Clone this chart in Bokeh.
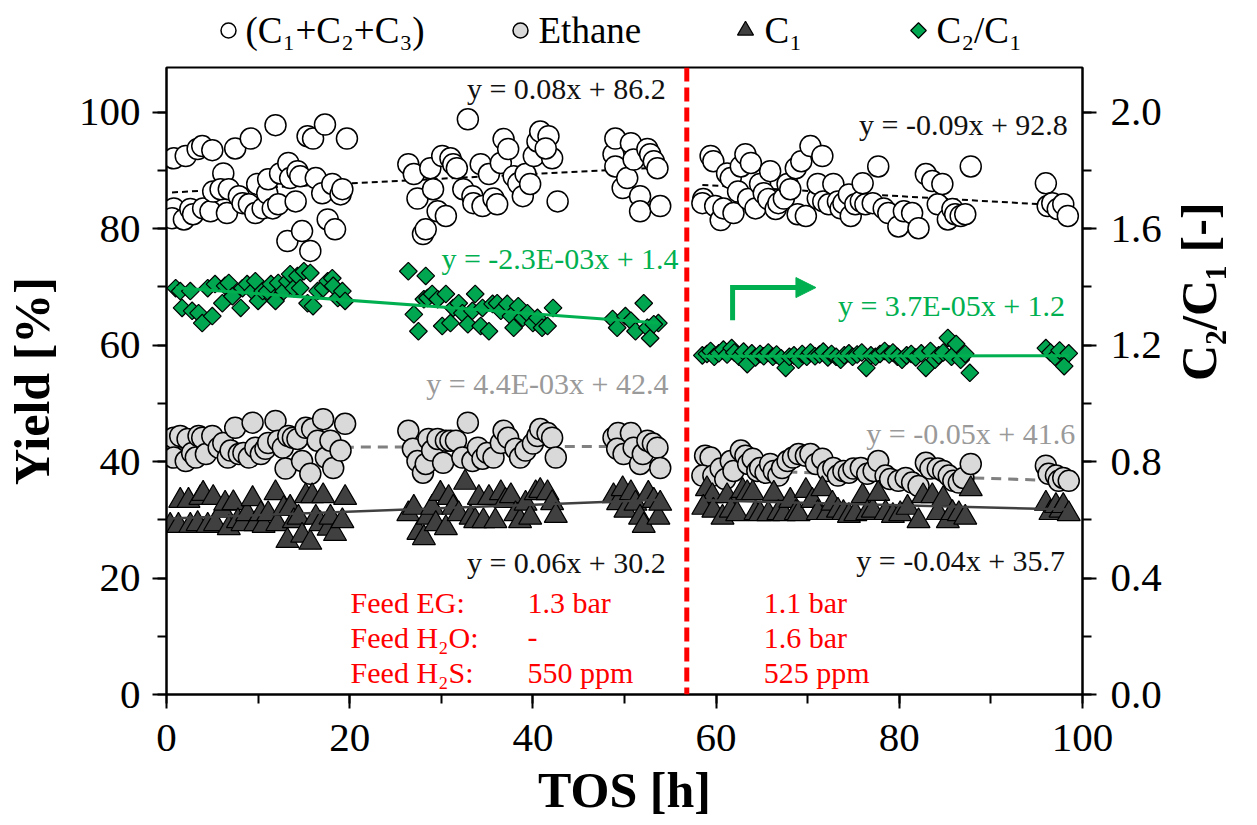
import numpy as np
from bokeh.plotting import figure
from bokeh.models import (Range1d, LinearAxis, SingleIntervalTicker, Span, Arrow,
                          NormalHead, PrintfTickFormatter)
from bokeh.layouts import column
from bokeh.core.properties import value
from bokeh.embed import file_html
from bokeh.resources import INLINE

FONT = "Liberation Serif"
GREEN = "#00b050"
GREEN_FILL = "#00a650"
GRAY_TXT = "#9a9a9a"
RED = "#ff0000"

# ---------------- data ----------------
switch_tos = 56.8

total_x1 = [0.8, 2.1, 3.4, 3.9, 5.0, 7.5, 9.2, 11.9, 15.4, 16.0, 17.3, 19.7,
            0.8, 0.6, 1.9, 2.6, 2.9, 4.0, 4.8, 5.1, 6.2, 5.9, 6.8, 6.6, 7.9, 8.3, 9.0, 9.7, 9.9, 10.5,
            11.0, 11.1, 11.6, 12.2, 12.4, 13.3, 13.5, 14.1, 14.3, 14.6, 13.2, 14.8, 15.7, 16.3, 17.0, 17.6, 18.1, 18.4, 19.0, 19.2,
            26.4, 27.0, 27.4, 28.0, 28.3, 28.8, 29.1, 29.6, 30.1, 30.5, 31.0, 31.3, 31.7, 32.4, 32.9, 33.4, 33.5, 34.3, 34.5, 35.2,
            35.7, 36.1, 36.5, 36.8, 37.3, 37.9, 38.4, 38.9, 39.2, 39.7, 40.1, 40.5, 40.8, 41.7, 42.1, 42.7, 41.4,
            48.8, 49.0, 49.0, 49.8, 50.3, 50.7, 51.0, 51.7, 51.7, 52.5, 52.8, 53.2, 53.6, 53.9]
total_y1 = [92.1, 92.5, 93.7, 94.2, 93.5, 93.8, 95.5, 97.8, 95.9, 95.5, 97.9, 95.5,
            83.5, 81.8, 81.6, 83.4, 82.5, 83.5, 83.0, 86.4, 89.5, 86.8, 86.8, 82.7, 85.6, 84.4, 84.2, 82.7, 87.7, 83.5,
            86.1, 88.5, 83.5, 84.2, 89.5, 91.3, 88.7, 84.7, 89.9, 89.0, 77.9, 79.6, 76.2, 88.7, 86.1, 81.6, 87.7, 79.9, 85.9, 86.8,
            91.1, 89.4, 85.2, 79.1, 79.9, 90.4, 86.8, 83.0, 92.5, 82.2, 92.1, 91.1, 90.4, 86.8, 98.8, 85.6, 84.4, 91.1, 83.9, 89.4,
            85.2, 84.2, 91.3, 95.4, 93.7, 89.0, 87.8, 85.6, 89.4, 87.7, 92.5, 95.0, 96.7, 95.9, 92.1, 84.7, 93.8,
            92.8, 95.5, 90.7, 87.0, 88.7, 94.7, 91.9, 85.6, 83.0, 93.7, 92.8, 91.6, 90.4, 83.9]
total_x2 = [59.4, 59.7, 58.6, 58.5, 59.9, 60.5, 60.8, 61.2, 61.6, 61.9,
            62.4, 62.7, 63.2, 63.8, 63.5, 64.3, 64.8, 65.2, 65.9, 65.7,
            66.5, 66.8, 67.4, 67.8, 68.1, 68.7, 68.9, 69.3, 69.8, 70.3,
            71.1, 71.1, 71.6, 71.7, 72.3, 72.8, 73.3, 73.6, 73.9, 74.5,
            74.7, 75.2, 75.8, 76.0, 76.3, 77.1, 77.7, 78.3, 78.8, 79.9,
            80.5, 81.4, 82.1, 82.9, 83.6, 84.2, 84.7, 85.3, 85.8, 86.1,
            86.7, 87.2, 87.8, 96.0, 96.2, 96.7, 97.3, 97.9, 98.4]
total_y2 = [92.5, 91.6, 85.1, 84.4, 83.9, 81.5, 83.5, 89.5, 88.7, 82.7,
            86.4, 90.7, 92.8, 91.3, 85.1, 83.5, 87.7, 86.1, 89.9, 85.1,
            83.4, 84.4, 85.2, 87.7, 86.8, 90.4, 82.5, 91.6, 82.2, 94.2,
            85.2, 87.7, 92.5, 84.7, 84.2, 87.7, 84.7, 83.5, 84.4, 85.9,
            82.2, 84.2, 84.7, 87.8, 84.2, 84.4, 90.7, 83.5, 82.7, 80.4,
            83.0, 82.7, 80.1, 89.4, 88.2, 84.2, 87.7, 81.6, 83.4, 82.5,
            82.2, 82.5, 90.7, 87.8, 83.9, 84.4, 83.4, 84.2, 82.2]

ethane_x1 = [0.8, 0.8, 1.5, 2.1, 2.3, 2.8, 3.2, 3.5, 3.9, 4.3,
             5.0, 5.7, 6.2, 6.7, 7.0, 7.5, 7.9, 8.4, 9.0, 9.4,
             9.7, 10.3, 10.8, 11.1, 11.9, 12.2, 12.7, 13.0, 13.3, 13.8,
             14.3, 14.8, 15.2, 15.7, 15.9, 16.5, 17.1, 17.4, 17.9, 18.2,
             19.0, 19.5,
             26.4, 26.9, 27.4, 28.0, 28.3, 28.6, 29.0, 29.6, 30.2, 30.5,
             31.0, 31.6, 32.3, 32.9, 33.4, 34.0, 34.5, 35.0, 35.7, 36.5,
             36.8, 37.3, 38.1, 38.6, 39.2, 40.0, 40.5, 40.8, 41.6, 42.1, 42.5,
             48.8, 49.3, 49.2, 49.9, 50.7, 51.0, 51.7, 52.0, 52.5, 53.1, 53.6, 53.9]
ethane_y1 = [44.1, 40.7, 44.4, 40.1, 43.9, 41.5, 40.7, 44.4, 44.1, 41.3,
             44.4, 42.4, 43.2, 40.7, 41.9, 45.8, 41.3, 41.5, 40.7, 46.7,
             42.4, 41.3, 42.2, 43.2, 47.0, 43.6, 42.4, 38.8, 44.4, 44.1,
             43.9, 40.1, 45.8, 37.9, 45.6, 43.6, 47.3, 40.7, 43.6, 38.9,
             41.9, 46.5,
             45.3, 42.2, 40.1, 38.1, 39.6, 43.9, 41.9, 43.9, 39.8, 43.6,
             43.6, 43.6, 40.7, 46.7, 40.1, 42.4, 40.5, 41.5, 40.7, 43.2,
             45.3, 44.1, 42.2, 40.7, 41.9, 43.1, 44.4, 45.6, 44.9, 44.1, 40.7,
             44.1, 44.9, 42.2, 41.3, 44.9, 42.4, 39.6, 41.3, 43.6, 43.1, 42.4, 38.9]
ethane_x2 = [58.8, 59.4, 58.5, 59.7, 60.5, 61.0, 61.6, 61.9, 62.7, 63.2,
             63.5, 64.0, 64.5, 64.8, 65.4, 65.9, 66.3, 66.8, 67.2, 67.8,
             68.4, 69.0, 69.8, 70.3, 70.9, 71.6, 72.2, 72.8, 73.3, 73.9,
             74.5, 75.0, 75.8, 76.5, 77.2, 77.7, 78.5, 79.0, 79.9, 80.7,
             81.4, 82.1, 82.9, 83.4, 84.2, 84.8, 85.4, 85.9, 86.5, 87.0,
             87.8, 96.0, 96.3, 97.1, 97.4, 97.9, 98.5]
ethane_y2 = [41.0, 40.7, 37.6, 37.6, 38.8, 37.0, 40.1, 38.4, 41.9, 41.0,
             39.6, 40.5, 38.4, 38.9, 38.1, 39.6, 38.4, 37.6, 38.9, 40.1,
             40.7, 41.3, 41.0, 41.3, 39.6, 40.5, 38.4, 38.9, 37.6, 38.4,
             38.1, 38.8, 38.9, 37.9, 38.4, 40.1, 37.6, 37.0, 36.7, 37.2,
             36.4, 35.8, 39.8, 38.8, 38.8, 38.4, 37.6, 36.7, 36.4, 37.2,
             39.6, 39.3, 37.9, 37.6, 36.7, 37.2, 36.7]

c1_x1 = [0.4, 1.3, 1.5, 2.4, 2.6, 3.4, 3.7, 4.0, 4.5, 5.1,
         5.3, 6.1, 6.4, 6.8, 7.3, 7.8, 8.3, 8.8, 9.4, 9.7,
         10.3, 10.6, 11.1, 11.9, 12.1, 12.8, 13.2, 13.5, 13.9, 14.4,
         14.8, 15.2, 15.7, 15.9, 16.3, 16.8, 17.1, 17.7, 17.9, 18.4,
         19.2, 19.5,
         26.4, 27.0, 27.5, 28.1, 28.5, 29.0, 29.4, 29.9, 30.5, 30.8,
         31.3, 31.9, 32.6, 33.2, 33.7, 34.1, 34.6, 35.2, 35.9, 36.5,
         37.0, 37.6, 38.1, 38.6, 39.2, 39.7, 40.3, 40.8, 41.6, 42.1, 42.5,
         48.8, 49.3, 49.8, 50.1, 50.7, 51.2, 51.7, 52.1, 52.6, 53.2, 53.7, 53.9]
c1_y1 = [29.0, 29.0, 33.3, 33.3, 29.0, 29.3, 33.8, 34.5, 29.0, 33.8,
         29.3, 31.6, 32.8, 28.6, 32.9, 29.8, 29.3, 31.0, 33.6, 29.3,
         31.0, 29.0, 31.0, 34.6, 29.3, 31.9, 26.4, 32.1, 29.8, 30.4,
         27.3, 34.1, 26.1, 34.1, 30.4, 29.3, 34.1, 28.5, 30.4, 27.6,
         29.8, 33.8,
         31.0, 32.1, 27.8, 26.9, 30.4, 32.1, 29.3, 34.5, 28.6, 33.8,
         32.1, 31.0, 36.4, 30.4, 29.8, 33.8, 29.8, 33.8, 29.8, 34.6,
         33.3, 34.1, 31.0, 29.8, 32.8, 30.4, 34.6, 35.0, 34.6, 32.9, 30.7,
         34.1, 32.9, 35.3, 31.6, 34.6, 32.8, 30.4, 29.0, 34.5, 33.3, 30.4, 32.8]
c1_x2 = [59.0, 59.6, 58.6, 59.7, 60.7, 61.2, 61.6, 62.3, 62.9, 63.4,
         64.0, 64.3, 64.8, 65.7, 66.3, 66.8, 67.4, 68.1, 68.7, 69.0,
         69.8, 70.5, 71.1, 71.6, 72.2, 72.7, 73.3, 73.9, 74.5, 75.2,
         76.0, 76.5, 77.1, 77.7, 78.5, 79.3, 80.1, 80.9, 82.1, 82.6,
         83.6, 84.2, 84.8, 85.3, 85.8, 86.5, 87.2, 87.8,
         96.0, 96.5, 97.1, 97.6, 97.9, 98.5]
c1_y2 = [35.3, 34.1, 32.1, 31.6, 30.4, 34.1, 31.6, 31.0, 35.0, 34.6,
         34.6, 31.2, 31.0, 31.0, 34.5, 31.2, 31.0, 33.3, 31.2, 31.0,
         35.0, 33.3, 31.2, 35.3, 31.2, 32.8, 31.6, 31.2, 30.7, 31.0,
         34.1, 31.2, 31.6, 34.5, 31.2, 30.7, 31.0, 32.1, 29.8, 34.1,
         34.1, 31.2, 33.6, 29.8, 31.2, 31.0, 30.4, 35.3,
         32.8, 31.2, 32.4, 31.6, 32.4, 31.0]

ratio_x1 = [1.0, 1.5, 1.7, 2.6, 2.8, 3.5, 3.9, 4.5, 5.0, 5.3,
            6.1, 6.4, 6.8, 7.2, 8.1, 8.3, 8.8, 9.4, 9.7, 10.0,
            10.5, 11.0, 11.4, 11.9, 12.2, 12.8, 13.2, 13.5, 13.9, 14.3,
            14.6, 15.0, 15.4, 15.7, 16.0, 16.5, 17.1, 17.6, 18.1, 18.2,
            18.7, 19.2, 19.5,
            26.4, 28.3, 27.0, 27.5, 28.1, 28.5, 29.0, 29.6, 30.1, 30.5,
            31.0, 31.3, 31.9, 32.3, 32.9, 33.4, 33.7, 34.3, 34.5, 35.2,
            35.6, 36.1, 36.5, 37.2, 37.6, 37.9, 38.4, 38.9, 39.4, 40.0,
            40.5, 41.0, 41.6, 42.2,
            48.7, 49.2, 50.1, 50.7, 51.2, 52.1, 52.5, 52.8, 53.7, 53.2]
ratio_y1 = [1.396, 1.386, 1.328, 1.386, 1.318, 1.310, 1.276, 1.396, 1.300, 1.410,
            1.344, 1.404, 1.414, 1.368, 1.328, 1.396, 1.410, 1.386, 1.420, 1.352,
            1.386, 1.386, 1.410, 1.352, 1.414, 1.386, 1.420, 1.444, 1.396, 1.438,
            1.396, 1.454, 1.344, 1.448, 1.334, 1.386, 1.396, 1.420, 1.430, 1.404,
            1.362, 1.386, 1.352,
            1.454, 1.438, 1.306, 1.248, 1.358, 1.362, 1.376, 1.358, 1.266, 1.376,
            1.276, 1.328, 1.344, 1.310, 1.272, 1.318, 1.376, 1.266, 1.328, 1.248,
            1.342, 1.344, 1.318, 1.342, 1.300, 1.260, 1.334, 1.294, 1.310, 1.276,
            1.294, 1.260, 1.266, 1.328,
            1.290, 1.260, 1.300, 1.284, 1.248, 1.344, 1.260, 1.224, 1.276, 1.272]
ratio_x2 = [58.5, 59.0, 59.4, 59.8, 60.3, 60.8, 61.2, 61.7, 62.0, 62.5,
            63.0, 63.4, 63.9, 64.3, 64.8, 65.2, 65.7, 66.2, 66.6, 67.1,
            67.6, 68.0, 68.5, 69.0, 69.4, 69.9, 70.3, 70.8, 71.3, 71.7,
            72.2, 72.6, 73.1, 73.6, 74.0, 74.5, 74.9, 75.4, 75.9, 76.4,
            76.9, 77.4, 77.9, 78.4, 78.9, 79.3, 79.8, 80.3, 80.8, 81.3,
            81.8, 82.4, 82.9, 83.4, 83.9, 84.3, 84.8, 85.3, 85.7, 86.2,
            86.7, 87.2, 87.7, 96.0, 96.5, 97.0, 97.5, 98.0, 98.5]
ratio_y2 = [1.165, 1.170, 1.180, 1.160, 1.172, 1.185, 1.168, 1.190, 1.175, 1.160,
            1.178, 1.135, 1.172, 1.158, 1.170, 1.162, 1.175, 1.160, 1.168, 1.155,
            1.122, 1.160, 1.165, 1.150, 1.170, 1.160, 1.175, 1.162, 1.168, 1.178,
            1.158, 1.170, 1.160, 1.150, 1.165, 1.172, 1.160, 1.168, 1.175, 1.122,
            1.165, 1.160, 1.170, 1.180, 1.168, 1.175, 1.160, 1.150, 1.165, 1.170,
            1.158, 1.172, 1.122, 1.180, 1.150, 1.165, 1.175, 1.225, 1.160, 1.204,
            1.150, 1.170, 1.105, 1.190, 1.175, 1.160, 1.182, 1.128, 1.172]

# linear fits (slope, intercept) per segment
fit_total = [(0.08, 86.2), (-0.09, 92.8)]
fit_ethane = [(4.4e-3, 42.4), (-0.05, 41.6)]
fit_c1 = [(0.06, 30.2), (-0.04, 35.7)]
fit_ratio = [(-2.3e-3, 1.40), (3.7e-5, 1.160)]

eq_text = ["y = 0.08x + 86.2", "y = -0.09x + 92.8",
           "y = -2.3E-03x + 1.4", "y = 3.7E-05x + 1.2",
           "y = 4.4E-03x + 42.4", "y = -0.05x + 41.6",
           "y = 0.06x + 30.2", "y = -0.04x + 35.7"]
eq_x = [54.5, 98.4, 55.9, 98.1, 54.8, 99.2, 54.5, 98.1]
eq_y = [104.1, 97.9, 74.9, 66.8, 53.4, 44.8, 22.7, 23.0]
eq_color = ["#111111", "#111111", GREEN, GREEN, GRAY_TXT, GRAY_TXT, "#111111", "#111111"]

feed_labels = ["Feed EG:", "Feed H\u2082O:", "Feed H\u2082S:"]
feed_before = ["1.3 bar", "-", "550 ppm"]
feed_after = ["1.1 bar", "1.6 bar", "525 ppm"]
feed_y = [15.8, 9.8, 3.8]
feed_col_x = [20.1, 39.4, 65.2]

arrow_x = [61.8, 61.8, 69.2]
arrow_y = [64.3, 69.9, 69.9]
arrow_tip = 70.9

legend_labels = ["(C\u2081+C\u2082+C\u2083)", "Ethane", "C\u2081", "C\u2082/C\u2081"]
legend_marker_x = [228, 520, 745, 918]
legend_text_x = [245, 538, 764, 936]

right_label = "C\u2082/C\u2081 [-]"

# ---------------- main figure ----------------
W = 1257
LEG_H = 58
FRAME_L, FRAME_R, FRAME_T, FRAME_B = 166, 1082, 67, 694
Y_MAX = 107.7
p = figure(width=W, height=825 - LEG_H, x_range=Range1d(0, 100), y_range=Range1d(0, Y_MAX),
           output_backend="svg", toolbar_location=None,
           min_border_left=FRAME_L, min_border_right=W - FRAME_R,
           min_border_top=FRAME_T - LEG_H, min_border_bottom=825 - FRAME_B)
p.extra_y_ranges = {"ratio": Range1d(0, Y_MAX / 50)}
p.xgrid.visible = False
p.ygrid.visible = False
p.outline_line_color = "black"
p.outline_line_width = 2
p.background_fill_color = "white"
p.border_fill_color = "white"

p.xaxis.ticker = SingleIntervalTicker(interval=20, num_minor_ticks=2)
p.yaxis.ticker = SingleIntervalTicker(interval=20, num_minor_ticks=2)
p.xaxis.axis_label = "TOS [h]"
p.yaxis.axis_label = "Yield [%]"

ax_r = LinearAxis(y_range_name="ratio", axis_label=right_label,
                  ticker=SingleIntervalTicker(interval=0.4, num_minor_ticks=2),
                  formatter=PrintfTickFormatter(format="%.1f"))
p.add_layout(ax_r, "right")

for ax in [p.xaxis[0], p.yaxis[0], ax_r]:
    ax.axis_line_width = 2
    ax.axis_line_color = "black"
    ax.major_tick_line_width = 2
    ax.minor_tick_line_width = 2
    ax.major_tick_in = 0
    ax.major_tick_out = 14
    ax.minor_tick_in = 0
    ax.minor_tick_out = 9
    ax.major_label_text_font = FONT
    ax.major_label_text_font_size = "41px"
    ax.major_label_text_color = "black"
    ax.axis_label_text_font = FONT
    ax.axis_label_text_font_style = "bold"
    ax.axis_label_text_font_size = "50px"
    ax.axis_label_text_color = "black"

p.xaxis[0].major_label_standoff = 16
p.xaxis[0].axis_label_standoff = 8
p.yaxis[0].major_label_standoff = 12
p.yaxis[0].axis_label_standoff = 16
ax_r.major_label_standoff = 14
ax_r.axis_label_standoff = 34
ax_r.axis_label_orientation = np.pi / 2
ax_r.axis_label_text_align = "center"

# red dashed switch line
p.add_layout(Span(location=switch_tos, dimension="height", line_color=RED,
                  line_width=5, line_dash="14 6"))


def trend(xs, fit):
    x0, x1 = min(xs), max(xs)
    return [x0, x1], [fit[0] * x0 + fit[1], fit[0] * x1 + fit[1]]


for xs, f in zip([total_x1, total_x2], fit_total):
    tx, ty = trend(xs, f)
    p.line(tx, ty, line_color="black", line_width=2, line_dash="6 4")
for xs, f in zip([ethane_x1, ethane_x2], fit_ethane):
    tx, ty = trend(xs, f)
    p.line(tx, ty, line_color="#808080", line_width=3, line_dash="10 7")

# markers
p.scatter(total_x1 + total_x2, total_y1 + total_y2, marker="circle", size=21,
          fill_color="white", line_color="black", line_width=1.5)
p.scatter(ethane_x1 + ethane_x2, ethane_y1 + ethane_y2, marker="circle", size=21,
          fill_color="#d9d9d9", line_color="black", line_width=1.5)
p.scatter(c1_x1 + c1_x2, c1_y1 + c1_y2, marker="triangle", size=23,
          fill_color="#404040", line_color="black", line_width=1.2)
for xs, f in zip([c1_x1, c1_x2], fit_c1):
    tx, ty = trend(xs, f)
    p.line(tx, ty, line_color="#404040", line_width=2.5)

p.scatter(ratio_x1 + ratio_x2, ratio_y1 + ratio_y2, marker="square", angle=np.pi / 4,
          size=12.5, fill_color=GREEN_FILL, line_color="black", line_width=1.2,
          y_range_name="ratio")
for xs, f in zip([ratio_x1, ratio_x2], fit_ratio):
    tx, ty = trend(xs, f)
    p.line(tx, ty, line_color=GREEN, line_width=3, y_range_name="ratio")

# arrow
p.line(arrow_x, arrow_y, line_color=GREEN, line_width=5, line_join="miter")
p.add_layout(Arrow(end=NormalHead(size=20, fill_color=GREEN, line_color=GREEN, line_width=1),
                   x_start=arrow_x[-1] - 0.5, y_start=arrow_y[-1], x_end=arrow_tip, y_end=arrow_y[-1],
                   line_color=GREEN, line_width=5))

# equations
p.text(x=eq_x, y=eq_y, text=eq_text, text_color=eq_color, text_font=value(FONT),
       text_font_size="30px", text_align="right", text_baseline="middle")

# feed conditions
for col_x, texts in zip(feed_col_x, [feed_labels, feed_before, feed_after]):
    p.text(x=[col_x] * 3, y=feed_y, text=texts, text_color=RED, text_font=value(FONT),
           text_font_size="30px", text_align="left", text_baseline="middle")

# ---------------- legend strip (frame aligned with main frame; data = page px) ----------------
leg = figure(width=W, height=LEG_H, x_range=Range1d(FRAME_L, FRAME_R), y_range=Range1d(0, LEG_H),
             output_backend="svg", toolbar_location=None, min_border=0,
             x_axis_location=None, y_axis_location=None)
leg.xgrid.visible = False
leg.ygrid.visible = False
leg.outline_line_color = None
leg_y = LEG_H - 30
leg.scatter([legend_marker_x[0]], [leg_y], marker="circle", size=15, fill_color="white",
            line_color="black", line_width=1.5)
leg.scatter([legend_marker_x[1]], [leg_y], marker="circle", size=15, fill_color="#d9d9d9",
            line_color="black", line_width=1.5)
leg.scatter([legend_marker_x[2]], [leg_y], marker="triangle", size=16, fill_color="#404040",
            line_color="black", line_width=1.2)
leg.scatter([legend_marker_x[3]], [leg_y], marker="square", angle=np.pi / 4, size=11,
            fill_color=GREEN_FILL, line_color="black", line_width=1.2)
leg.text(x=legend_text_x, y=[leg_y] * 4, text=legend_labels, text_font=value(FONT),
         text_font_size="37px", text_color="black", text_align="left", text_baseline="middle")

layout = column(leg, p, spacing=0)
open("out.html", "w").write(file_html(layout, INLINE))
